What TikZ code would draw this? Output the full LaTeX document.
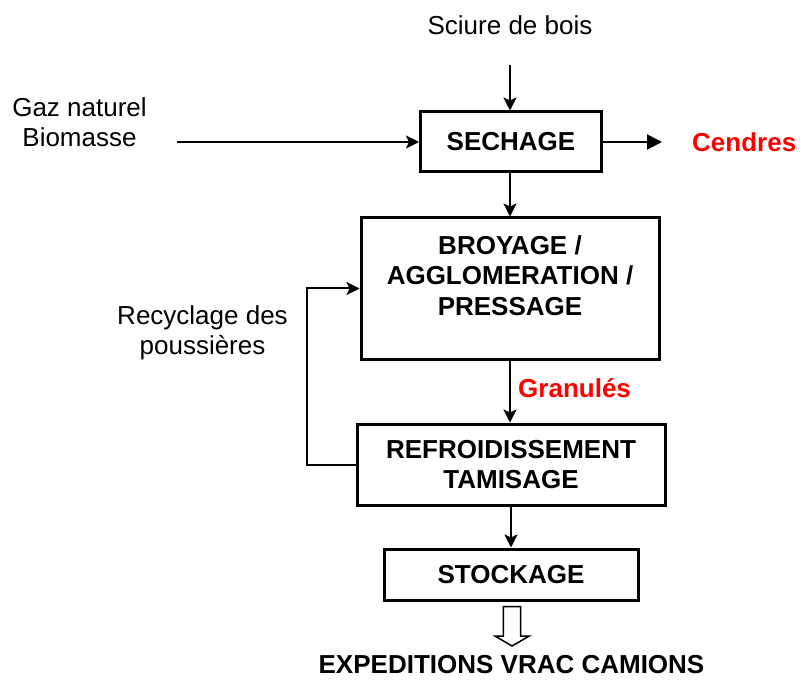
\documentclass[tikz,border=0pt]{standalone}
\usepackage{fontspec}
\setmainfont{Liberation Sans}
\usetikzlibrary{arrows.meta}
\definecolor{redlabel}{RGB}{255,0,0}
\begin{document}
\begin{tikzpicture}[x=1pt,y=-1pt,
  box/.style={draw=black,line width=3pt,rectangle,inner sep=0pt,align=center,
    font=\fontsize{26pt}{30.5pt}\selectfont\bfseries},
  boxtext/.style={inner sep=0pt,align=center,font=\fontsize{26pt}{30.5pt}\selectfont\bfseries},
  plain/.style={inner sep=0pt,align=center,font=\fontsize{26pt}{30pt}\selectfont},
  redtxt/.style={inner sep=0pt,text=redlabel,font=\fontsize{26pt}{30pt}\selectfont\bfseries},
  arr/.style={line width=2pt,-{Stealth[length=13pt,width=13pt,inset=3pt]}},
  bigarr/.style={line width=2pt,-{Triangle[length=15pt,width=15pt]}}
]
\useasboundingbox (0,0) rectangle (800,684);

% boxes
\node[box,minimum width=181pt,minimum height=60pt] (sech) at (511,142) {SECHAGE};
\node[box,minimum width=298pt,minimum height=141pt] (broy) at (510,288.5) {};
\node[boxtext] (broytxt) at (510,275.5) {BROYAGE /\\AGGLOMERATION /\\PRESSAGE};
\node[box,minimum width=308pt,minimum height=81pt] (refr) at (511,464.5) {REFROIDISSEMENT\\TAMISAGE};
\node[box,minimum width=254pt,minimum height=51pt] (stock) at (511,574.5) {STOCKAGE};

% labels
\node[plain,anchor=base] (sciure) at (510,35) {Sciure de bois};
\node[plain] (gaz) at (79.5,122.5) {Gaz naturel\\Biomasse};
\node[plain] (recy) at (202.5,333) {Recyclage des\\poussières};
\node[redtxt,anchor=base west] (cendres) at (692,151.7) {Cendres};
\node[redtxt,anchor=base west] (granules) at (518,397.7) {Granulés};
\node[boxtext] (exped) at (511.5,665) {EXPEDITIONS VRAC CAMIONS};

% connector ends
\coordinate (sciureend) at (510,65);
\coordinate (gazend) at (177,142);
\coordinate (cendresend) at (662,142);

% connectors
\draw[arr] (sciureend) -- (sciureend |- sech.north);
\draw[arr] (gazend) -- (sech.west);
\draw[bigarr] (sech.east) -- (cendresend);
\draw[arr] (sech.south -| 510,0) -- (broy.north -| 510,0);
\draw[arr] (broy.south -| 510,0) -- (refr.north -| 510,0);
\draw[arr] (refr.south -| 511,0) -- (stock.north -| 511,0);
\draw[arr] (refr.west) -- ++(-49,0) |- (broy.west);

% hollow block arrow to expeditions
\draw[line width=1.5pt,fill=white,line join=miter]
  (503.3,606.7) -- (520.7,606.7) -- (520.7,636) -- (529.3,636) -- (512,646)
  -- (495,636) -- (503.3,636) -- cycle;
\end{tikzpicture}
\end{document}
